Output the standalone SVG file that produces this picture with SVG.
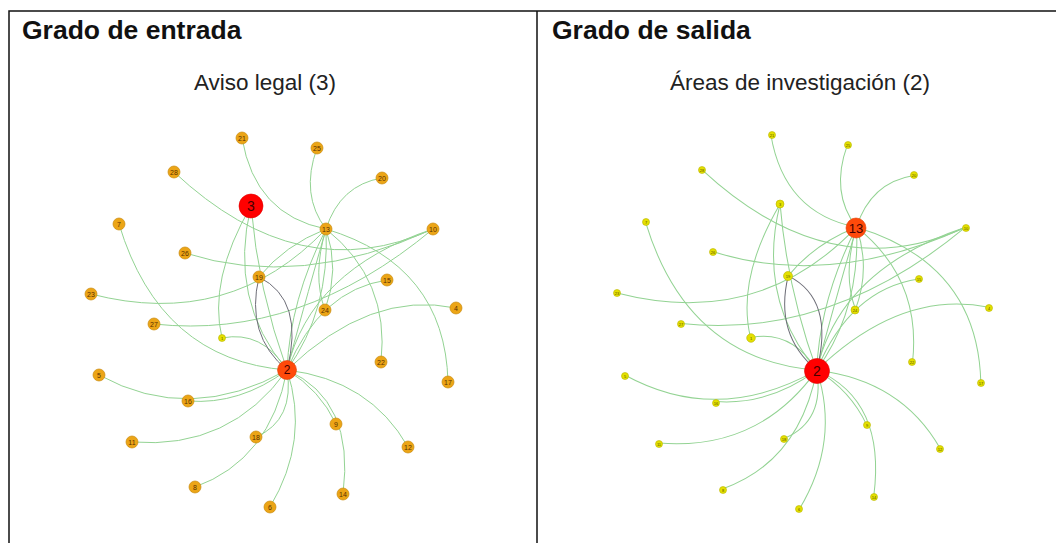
<svg xmlns="http://www.w3.org/2000/svg" width="1056" height="543" viewBox="0 0 1056 543">
<style>
.frame{fill:none;stroke:#111;stroke-width:1.5}
.title{font-family:"Liberation Sans",Arial,sans-serif;font-weight:bold;font-size:26.5px;fill:#111}
.sub{font-family:"Liberation Sans",Arial,sans-serif;font-size:22.5px;fill:#222;text-anchor:middle}
.e{fill:none;stroke:#93d393;stroke-width:1}
.g{fill:none;stroke:#6e6e78;stroke-width:1}
.o{fill:#eca516;stroke:#c98b10;stroke-width:0.7}
.y{fill:#e4e000;stroke:#b9b400;stroke-width:0.6}
.rd{fill:#ff0000;stroke:#e00000;stroke-width:0.6}
.or{fill:#ff4a0a;stroke:#e03a00;stroke-width:0.6}
.l{font-family:"Liberation Sans",Arial,sans-serif;font-size:7px;fill:#5a3000;text-anchor:middle;dominant-baseline:central}
.ls{font-family:"Liberation Sans",Arial,sans-serif;font-size:4px;fill:#555000;text-anchor:middle;dominant-baseline:central}
.lb{font-family:"Liberation Sans",Arial,sans-serif;fill:#400;text-anchor:middle;dominant-baseline:central}
</style>
<defs>
<g id="edges">
<path class="e" d="M242,138 Q255,215 326,229"/>
<path class="e" d="M317,148 Q300,195 326,229"/>
<path class="e" d="M382,178 Q340,185 326,229"/>
<path class="e" d="M174,172 Q300,290 433,229"/>
<path class="e" d="M119,224 Q160,360 287,370"/>
<path class="e" d="M185,253 Q300,290 433,229"/>
<path class="e" d="M91,294 Q230,330 326,229"/>
<path class="e" d="M154,324 Q300,340 433,229"/>
<path class="e" d="M251,206 Q208,280 222,338"/>
<path class="e" d="M222,338 Q262,330 287,370"/>
<path class="e" d="M251,206 Q228,300 287,370"/>
<path class="e" d="M287,370 Q258,290 251,206"/>
<path class="e" d="M259,277 Q285,245 326,229"/>
<path class="e" d="M99,375 Q190,425 287,370"/>
<path class="e" d="M188,401 Q240,405 287,370"/>
<path class="e" d="M132,442 Q230,450 287,370"/>
<path class="e" d="M195,487 Q270,460 287,370"/>
<path class="e" d="M256,437 Q295,420 287,370"/>
<path class="e" d="M270,507 Q310,440 287,370"/>
<path class="e" d="M336,424 Q320,390 287,370"/>
<path class="e" d="M343,494 Q355,400 287,370"/>
<path class="e" d="M408,447 Q370,380 287,370"/>
<path class="e" d="M448,382 Q445,265 326,229"/>
<path class="e" d="M381,362 Q390,280 326,229"/>
<path class="e" d="M387,280 Q320,290 287,370"/>
<path class="e" d="M456,308 Q370,290 287,370"/>
<path class="e" d="M325,310 Q340,270 326,229"/>
<path class="e" d="M326,229 Q312,275 325,310"/>
<path class="e" d="M433,229 Q310,270 287,370"/>
<path class="e" d="M326,229 Q290,300 287,370"/>
<path class="e" d="M287,370 Q330,310 326,229"/>
<path class="e" d="M326,229 Q300,320 287,370"/>
<path class="g" d="M259,277 Q245,335 287,370"/>
<path class="g" d="M287,370 Q305,300 259,277"/>
</g>
</defs>
<path class="frame" d="M9,543 V11 H1056 M537,11 V543"/>
<text class="title" x="22" y="39">Grado de entrada</text>
<text class="title" x="552" y="39">Grado de salida</text>
<text class="sub" x="265" y="90">Aviso legal (3)</text>
<text class="sub" x="800" y="90">Áreas de investigación (2)</text>
<g id="connectors">
<use href="#edges"/>
<use href="#edges" transform="matrix(1.019 0 0 1.0136 524.3 -4.9)"/>
</g>
<g id="left-nodes">
<g id="L21"><circle class="o" cx="242" cy="138" r="6"/><text class="l" x="242" y="138">21</text></g>
<g id="L28"><circle class="o" cx="174" cy="172" r="6"/><text class="l" x="174" y="172">28</text></g>
<g id="L7"><circle class="o" cx="119" cy="224" r="6"/><text class="l" x="119" y="224">7</text></g>
<g id="L26"><circle class="o" cx="185" cy="253" r="6"/><text class="l" x="185" y="253">26</text></g>
<g id="L25"><circle class="o" cx="317" cy="148" r="6"/><text class="l" x="317" y="148">25</text></g>
<g id="L20"><circle class="o" cx="382" cy="178" r="6"/><text class="l" x="382" y="178">20</text></g>
<g id="L13"><circle class="o" cx="326" cy="229" r="6"/><text class="l" x="326" y="229">13</text></g>
<g id="L10"><circle class="o" cx="433" cy="229" r="6"/><text class="l" x="433" y="229">10</text></g>
<g id="L19"><circle class="o" cx="259" cy="277" r="6"/><text class="l" x="259" y="277">19</text></g>
<g id="L23"><circle class="o" cx="91" cy="294" r="6"/><text class="l" x="91" y="294">23</text></g>
<g id="L27"><circle class="o" cx="154" cy="324" r="6"/><text class="l" x="154" y="324">27</text></g>
<g id="L1"><circle class="y" cx="222" cy="338" r="3.5"/><text class="ls" x="222" y="338">1</text></g>
<g id="L5"><circle class="o" cx="99" cy="375" r="6"/><text class="l" x="99" y="375">5</text></g>
<g id="L16"><circle class="o" cx="188" cy="401" r="6"/><text class="l" x="188" y="401">16</text></g>
<g id="L15"><circle class="o" cx="387" cy="280" r="6"/><text class="l" x="387" y="280">15</text></g>
<g id="L4"><circle class="o" cx="456" cy="308" r="6"/><text class="l" x="456" y="308">4</text></g>
<g id="L24"><circle class="o" cx="325" cy="310" r="6"/><text class="l" x="325" y="310">24</text></g>
<g id="L22"><circle class="o" cx="381" cy="362" r="6"/><text class="l" x="381" y="362">22</text></g>
<g id="L17"><circle class="o" cx="448" cy="382" r="6"/><text class="l" x="448" y="382">17</text></g>
<g id="L9"><circle class="o" cx="336" cy="424" r="6"/><text class="l" x="336" y="424">9</text></g>
<g id="L18"><circle class="o" cx="256" cy="437" r="6"/><text class="l" x="256" y="437">18</text></g>
<g id="L11"><circle class="o" cx="132" cy="442" r="6"/><text class="l" x="132" y="442">11</text></g>
<g id="L12"><circle class="o" cx="408" cy="447" r="6"/><text class="l" x="408" y="447">12</text></g>
<g id="L8"><circle class="o" cx="195" cy="487" r="6"/><text class="l" x="195" y="487">8</text></g>
<g id="L14"><circle class="o" cx="343" cy="494" r="6"/><text class="l" x="343" y="494">14</text></g>
<g id="L6"><circle class="o" cx="270" cy="507" r="6"/><text class="l" x="270" y="507">6</text></g>
<g id="L2"><circle class="or" cx="287" cy="370" r="9.5"/><text class="lb" x="287" y="370" font-size="12">2</text></g>
<g id="L3"><circle class="rd" cx="251" cy="206" r="12"/><text class="lb" x="251" y="206" font-size="14">3</text></g>
</g>
<g id="right-nodes">
<g id="R21"><circle class="y" cx="772" cy="135" r="3.5"/><text class="ls" x="772" y="135">21</text></g>
<g id="R28"><circle class="y" cx="702" cy="170" r="3.5"/><text class="ls" x="702" y="170">28</text></g>
<g id="R3"><circle class="y" cx="780" cy="204" r="4"/><text class="ls" x="780" y="204">3</text></g>
<g id="R7"><circle class="y" cx="646" cy="222" r="3.5"/><text class="ls" x="646" y="222">7</text></g>
<g id="R26"><circle class="y" cx="713" cy="252" r="3.5"/><text class="ls" x="713" y="252">26</text></g>
<g id="R25"><circle class="y" cx="848" cy="145" r="3.5"/><text class="ls" x="848" y="145">25</text></g>
<g id="R20"><circle class="y" cx="914" cy="175" r="3.5"/><text class="ls" x="914" y="175">20</text></g>
<g id="R10"><circle class="y" cx="966" cy="228" r="3.5"/><text class="ls" x="966" y="228">10</text></g>
<g id="R19"><circle class="y" cx="788" cy="276" r="4.5"/><text class="ls" x="788" y="276">19</text></g>
<g id="R23"><circle class="y" cx="617" cy="293" r="3.5"/><text class="ls" x="617" y="293">23</text></g>
<g id="R27"><circle class="y" cx="681" cy="324" r="3.5"/><text class="ls" x="681" y="324">27</text></g>
<g id="R1"><circle class="y" cx="751" cy="338" r="4.3"/><text class="ls" x="751" y="338">1</text></g>
<g id="R5"><circle class="y" cx="625" cy="376" r="3.5"/><text class="ls" x="625" y="376">5</text></g>
<g id="R16"><circle class="y" cx="716" cy="403" r="3.5"/><text class="ls" x="716" y="403">16</text></g>
<g id="R15"><circle class="y" cx="919" cy="279" r="3.5"/><text class="ls" x="919" y="279">15</text></g>
<g id="R4"><circle class="y" cx="989" cy="308" r="3.5"/><text class="ls" x="989" y="308">4</text></g>
<g id="R24"><circle class="y" cx="855" cy="310" r="4"/><text class="ls" x="855" y="310">24</text></g>
<g id="R22"><circle class="y" cx="912" cy="362" r="3.5"/><text class="ls" x="912" y="362">22</text></g>
<g id="R17"><circle class="y" cx="981" cy="383" r="3.5"/><text class="ls" x="981" y="383">17</text></g>
<g id="R9"><circle class="y" cx="867" cy="425" r="3.5"/><text class="ls" x="867" y="425">9</text></g>
<g id="R18"><circle class="y" cx="784" cy="439" r="3.5"/><text class="ls" x="784" y="439">18</text></g>
<g id="R11"><circle class="y" cx="659" cy="444" r="3.5"/><text class="ls" x="659" y="444">11</text></g>
<g id="R12"><circle class="y" cx="940" cy="449" r="3.5"/><text class="ls" x="940" y="449">12</text></g>
<g id="R8"><circle class="y" cx="723" cy="490" r="3.5"/><text class="ls" x="723" y="490">8</text></g>
<g id="R14"><circle class="y" cx="874" cy="497" r="3.5"/><text class="ls" x="874" y="497">14</text></g>
<g id="R6"><circle class="y" cx="799" cy="509" r="3.5"/><text class="ls" x="799" y="509">6</text></g>
<g id="R13"><circle class="or" cx="856" cy="228" r="10"/><text class="lb" x="856" y="228" font-size="13">13</text></g>
<g id="R2"><circle class="rd" cx="817" cy="371" r="12.5"/><text class="lb" x="817" y="371" font-size="14">2</text></g>
</g>
</svg>
